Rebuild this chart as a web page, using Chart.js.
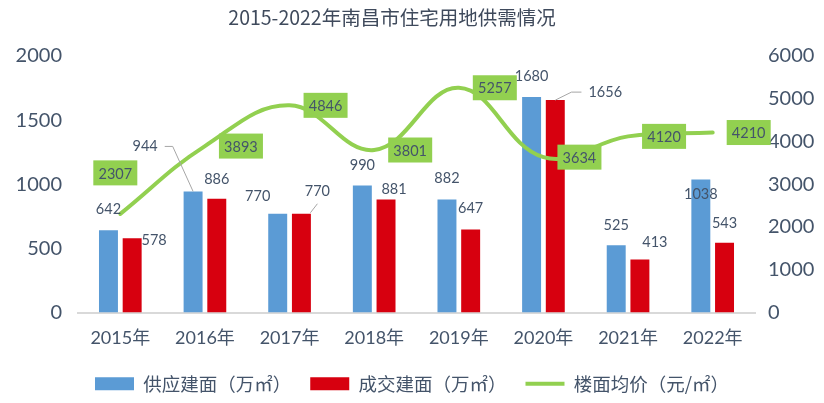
<!DOCTYPE html>
<html>
<head>
<meta charset="utf-8">
<script src="https://cdn.jsdelivr.net/npm/chart.js@4/dist/chart.umd.min.js"></script>
<style>
  html, body { margin: 0; padding: 0; background: #fff; }
</style>
</head>
<body>
<canvas id="graficaSuelo" width="824" height="403"></canvas>
<script>
// datos
const years = ['2015年', '2016年', '2017年', '2018年', '2019年', '2020年', '2021年', '2022年'];
const supplyArea = [642, 944, 770, 990, 882, 1680, 525, 1038];
const dealArea = [578, 886, 770, 881, 647, 1656, 413, 543];
const floorPrice = [2307, 3893, 4846, 3801, 5257, 3634, 4120, 4210];
const leftTicks = [0, 500, 1000, 1500, 2000];
const rightTicks = [0, 1000, 2000, 3000, 4000, 5000, 6000];

const TITLE = '2015-2022年南昌市住宅用地供需情况';
const TEXT = '#44546A';
const FONT = 'Lato, "Noto Sans CJK SC", sans-serif';

// label placement (dx, dy from bar top centre, leader type)
const barLabelOffsets = [
    [[0, -21], [-48, -45, 'left'], [-20, -17], [0, -20], [0, -21], [0, -21], [0, -20], [0, 15]],
    [[22, 2], [0, -20], [16, -22, 'short'], [8, -10], [0, -21], [50, -8, 'right'], [15, -17], [0, -20]]
];
// green boxes, centre relative to the line point
const lineLabelOffsets = [[-5, -41], [36, 0], [36, 0], [36, 0], [36, 0], [36, 0], [36, 0], [36, 0]];

const labelsPlugin = {
    id: 'etiquetas',
    afterDatasetsDraw(chart) {
        const ctx = chart.ctx;
        ctx.save();
        ctx.font = '14.5px ' + FONT;
        ctx.textAlign = 'center';
        ctx.textBaseline = 'middle';

        [0, 1].forEach(di => {
            const meta = chart.getDatasetMeta(di);
            meta.data.forEach((bar, i) => {
                const [dx, dy, leader] = barLabelOffsets[di][i];
                const x = bar.x + dx, y = bar.y + dy;
                const text = String(chart.data.datasets[di].data[i]);
                const w = ctx.measureText(text).width;
                if (leader) {
                    ctx.strokeStyle = '#A6A6A6';
                    ctx.lineWidth = 1;
                    ctx.beginPath();
                    if (leader === 'left') {
                        ctx.moveTo(x + w / 2 + 7, y);
                        ctx.lineTo(x + w / 2 + 15, y);
                        ctx.lineTo(bar.x, bar.y);
                    } else if (leader === 'right') {
                        ctx.moveTo(bar.x, bar.y);
                        ctx.lineTo(x - w / 2 - 17, y);
                        ctx.lineTo(x - w / 2 - 7, y);
                    } else {
                        ctx.moveTo(bar.x + 9, bar.y - 1);
                        ctx.lineTo(x, y + 12);
                    }
                    ctx.stroke();
                }
                ctx.fillStyle = TEXT;
                ctx.fillText(text, x, y);
            });
        });

        const lineMeta = chart.getDatasetMeta(2);
        lineMeta.data.forEach((pt, i) => {
            const [dx, dy] = lineLabelOffsets[i];
            const cx = pt.x + dx, cy = pt.y + dy;
            ctx.fillStyle = '#92D050';
            ctx.fillRect(cx - 22, cy - 12.5, 44, 25);
            ctx.fillStyle = TEXT;
            ctx.fillText(String(chart.data.datasets[2].data[i]), cx, cy + 1);
        });

        // titulo
        ctx.font = '19.5px "Noto Sans CJK SC", sans-serif';
        ctx.fillStyle = '#3F4A5C';
        ctx.fillText(TITLE, 392, 18);
        ctx.restore();
    }
};

const ctx = document.getElementById('graficaSuelo');

new Chart(ctx, {
    data: {
        labels: years,
        datasets: [{
            type: 'bar',
            label: '供应建面（万㎡）',
            data: supplyArea,
            backgroundColor: '#5B9BD5',
            yAxisID: 'y',
            barPercentage: 0.8,
            categoryPercentage: 0.56,
            order: 1
        }, {
            type: 'bar',
            label: '成交建面（万㎡）',
            data: dealArea,
            backgroundColor: '#D7000F',
            yAxisID: 'y',
            barPercentage: 0.8,
            categoryPercentage: 0.56,
            order: 1
        }, {
            type: 'line',
            label: '楼面均价（元/㎡）',
            data: floorPrice,
            borderColor: '#92D050',
            backgroundColor: '#92D050',
            borderWidth: 4,
            borderCapStyle: 'round',
            pointRadius: 0,
            tension: 0.4,
            yAxisID: 'y1',
            order: 0
        }]
    },
    options: {
        responsive: false,
        animation: false,
        layout: { padding: { top: 56, left: 0, right: 0, bottom: 0 } },
        plugins: {
            title: { display: false },
            tooltip: { enabled: false },
            legend: {
                position: 'bottom',
                labels: {
                    color: TEXT,
                    font: { size: 18.5, family: '"Noto Sans CJK SC", sans-serif' },
                    usePointStyle: true,
                    pointStyleWidth: 39,
                    boxWidth: 39,
                    boxHeight: 13,
                    padding: 19,
                    sort: (a, b) => a.datasetIndex - b.datasetIndex,
                    generateLabels(chart) {
                        const items = Chart.defaults.plugins.legend.labels.generateLabels(chart);
                        items.forEach(it => {
                            if (it.datasetIndex === 2) {
                                it.pointStyle = 'line';
                                it.lineWidth = 4;
                                it.strokeStyle = '#92D050';
                            } else {
                                it.pointStyle = 'rect';
                                it.lineWidth = 0;
                            }
                        });
                        return items;
                    }
                }
            }
        },
        scales: {
            x: {
                grid: { display: false, drawTicks: false },
                border: { color: '#D9D9D9', width: 2 },
                ticks: { color: TEXT, font: { size: 18, family: FONT }, padding: 15 },
                afterFit(s) { s.height = 43; }
            },
            y: {
                position: 'left',
                min: leftTicks[0],
                max: leftTicks[leftTicks.length - 1],
                grid: { display: false, drawTicks: false },
                border: { display: false },
                ticks: {
                    stepSize: leftTicks[1] - leftTicks[0],
                    color: TEXT,
                    font: { size: 20, family: FONT },
                    padding: 16,
                    callback: v => String(v)
                },
                afterFit(s) { s.width = 78; }
            },
            y1: {
                position: 'right',
                min: rightTicks[0],
                max: rightTicks[rightTicks.length - 1],
                grid: { display: false, drawTicks: false },
                border: { display: false },
                ticks: {
                    stepSize: rightTicks[1] - rightTicks[0],
                    color: TEXT,
                    font: { size: 20, family: FONT },
                    padding: 13,
                    callback: v => String(v)
                },
                afterFit(s) { s.width = 69; }
            }
        }
    },
    plugins: [labelsPlugin]
});
</script>
</body>
</html>
